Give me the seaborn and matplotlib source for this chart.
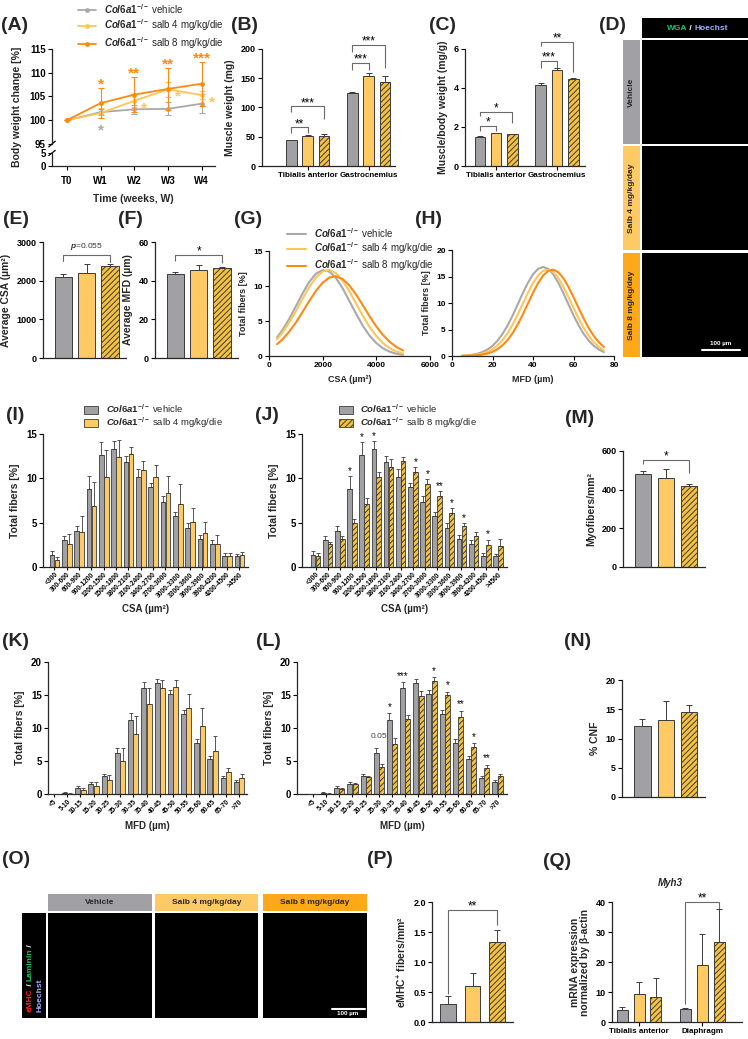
import numpy as np
import pandas as pd
import seaborn as sns
import matplotlib.pyplot as plt
from matplotlib.patches import Patch, Rectangle
from matplotlib.lines import Line2D
from matplotlib.transforms import offset_copy

# ---------------- data ----------------
weeks = ["T0", "W1", "W2", "W3", "W4"]
bw_vehicle = [100.0, 101.7, 102.3, 102.4, 103.5]
bw_vehicle_err = [0.0, 0.6, 1.0, 1.4, 2.0]
bw_salb4 = [100.0, 101.5, 104.1, 106.5, 105.3]
bw_salb4_err = [0.0, 1.0, 1.4, 1.6, 0.8]
bw_salb8 = [100.0, 103.6, 105.4, 106.6, 107.7]
bw_salb8_err = [0.0, 3.2, 3.7, 4.5, 4.6]
bw_stars_salb8 = ["", "*", "**", "**", "***"]
bw_stars_salb4 = ["", "", "*", "*", "*"]
bw_stars_vehicle = ["", "*", "", "", ""]

muscles_b = ["Tibialis anterior", "Gastrocnemius"]
mw_vehicle = [44, 124]
mw_vehicle_err = [1.2, 3.0]
mw_salb4 = [52, 154]
mw_salb4_err = [1.5, 5.0]
mw_salb8 = [51, 143]
mw_salb8_err = [4.0, 10.0]

rw_vehicle = [1.50, 4.17]
rw_vehicle_err = [0.03, 0.09]
rw_salb4 = [1.67, 4.93]
rw_salb4_err = [0.03, 0.07]
rw_salb8 = [1.62, 4.45]
rw_salb8_err = [0.03, 0.05]

csa_mean = [2090, 2200, 2380]
csa_err = [80, 220, 60]
mfd_mean = [43.6, 45.7, 46.6]
mfd_err = [0.8, 2.4, 0.5]

curve_csa = [300, 500, 750, 1000, 1250, 1500, 1750, 2000, 2250, 2500,
             2750, 3000, 3250, 3500, 3750, 4000, 4250, 4500, 4750, 5000]
curve_csa_vehicle = [2.66, 3.70, 5.28, 7.09, 8.93, 10.58, 11.76, 12.28, 12.06, 11.12,
                     9.63, 7.83, 5.99, 4.30, 2.90, 1.84, 1.09, 0.61, 0.32, 0.16]
curve_csa_salb4 = [2.39, 3.32, 4.74, 6.40, 8.17, 9.85, 11.22, 12.08, 12.29, 11.81,
                   10.72, 9.20, 7.46, 5.72, 4.14, 2.83, 1.83, 1.12, 0.64, 0.35]
curve_csa_salb8 = [1.69, 2.37, 3.45, 4.78, 6.29, 7.85, 9.31, 10.48, 11.21, 11.39,
                   10.98, 10.06, 8.75, 7.23, 5.67, 4.22, 2.99, 2.01, 1.28, 0.78]

curve_mfd = [5, 7.5, 10, 12.5, 15, 17.5, 20, 22.5, 25, 27.5, 30, 32.5, 35, 37.5, 40,
             42.5, 45, 47.5, 50, 52.5, 55, 57.5, 60, 62.5, 65, 67.5, 70, 72.5, 75]
curve_mfd_vehicle = [0.06, 0.13, 0.24, 0.43, 0.74, 1.22, 1.92, 2.90, 4.19, 5.80, 7.69,
                     9.77, 11.87, 13.82, 15.40, 16.44, 16.80, 16.44, 15.40, 13.82, 11.87,
                     9.77, 7.69, 5.80, 4.19, 2.90, 1.92, 1.22, 0.74]
curve_mfd_salb4 = [0.04, 0.07, 0.14, 0.26, 0.47, 0.79, 1.30, 2.03, 3.03, 4.35, 5.98,
                   7.86, 9.89, 11.92, 13.75, 15.19, 16.07, 16.29, 15.80, 14.68, 13.05,
                   11.12, 9.06, 7.08, 5.29, 3.79, 2.60, 1.71, 1.07]
curve_mfd_salb8 = [0.02, 0.04, 0.07, 0.14, 0.26, 0.47, 0.79, 1.30, 2.03, 3.03, 4.35,
                   5.98, 7.86, 9.89, 11.92, 13.75, 15.19, 16.07, 16.29, 15.80, 14.68,
                   13.05, 11.12, 9.06, 7.08, 5.29, 3.79, 2.60, 1.71]

csa_bins = ["<300", "300-600", "600-900", "900-1200", "1200-1500", "1500-1800",
            "1800-2100", "2100-2400", "2400-2700", "2700-3000", "3000-3300",
            "3300-3600", "3600-3900", "3900-4200", "4200-4500", ">4500"]
csa_vehicle = [1.35, 3.05, 4.1, 8.8, 12.6, 13.3, 11.8, 10.15, 9.0, 7.3, 5.7, 4.45, 3.2, 2.6, 1.25, 1.2]
csa_vehicle_err = [0.45, 0.4, 0.5, 1.5, 1.5, 0.9, 0.7, 0.9, 0.5, 0.7, 0.5, 0.5, 0.4, 0.5, 0.3, 0.3]
csa_salb4 = [0.8, 2.65, 4.0, 6.9, 10.1, 12.4, 12.8, 10.9, 10.2, 8.35, 7.1, 5.05, 3.8, 2.6, 1.25, 1.3]
csa_salb4_err = [0.3, 1.1, 1.7, 2.7, 3.1, 1.9, 0.7, 1.0, 1.3, 1.9, 2.3, 1.6, 1.3, 1.0, 0.3, 0.4]
csa_salb8 = [1.2, 2.65, 3.2, 5.0, 7.15, 10.2, 11.3, 12.0, 10.7, 9.35, 8.0, 6.1, 4.6, 3.5, 2.5, 2.35]
csa_salb8_err = [0.35, 0.15, 0.3, 0.4, 0.6, 0.5, 0.9, 0.4, 0.6, 0.6, 0.6, 0.5, 0.4, 0.5, 0.6, 0.8]
csa_stars_salb8 = ["", "", "", "*", "*", "*", "", "", "*", "*", "**", "*", "*", "", "*", ""]

myo_mean = [480, 462, 420]
myo_err = [18, 43, 10]

mfd_bins = ["<5", "5-10", "10-15", "15-20", "20-25", "25-30", "30-35", "35-40",
            "40-45", "45-50", "50-55", "55-60", "60-65", "65-70", ">70"]
mfd_vehicle = [0.0, 0.15, 0.9, 1.5, 2.8, 6.15, 11.15, 16.1, 16.75, 15.15, 12.1, 7.7, 5.3, 2.45, 1.85]
mfd_vehicle_err = [0.0, 0.1, 0.25, 0.25, 0.3, 0.8, 1.1, 0.8, 0.7, 0.6, 0.7, 0.7, 0.5, 0.3, 0.3]
mfd_salb4 = [0.0, 0.05, 0.55, 1.25, 2.15, 4.95, 9.15, 13.6, 16.1, 16.25, 13.0, 10.35, 6.55, 3.3, 2.5]
mfd_salb4_err = [0.0, 0.05, 0.4, 0.55, 0.8, 2.0, 2.6, 2.4, 1.2, 1.0, 2.2, 2.7, 2.2, 0.7, 0.5]
mfd_salb8 = [0.0, 0.05, 0.75, 1.45, 2.55, 4.15, 7.6, 11.3, 14.85, 17.1, 15.0, 11.7, 7.1, 3.9, 2.7]
mfd_salb8_err = [0.0, 0.05, 0.2, 0.2, 0.2, 0.35, 0.9, 0.6, 0.8, 0.6, 0.5, 0.9, 0.6, 0.5, 0.4]
mfd_stars_salb8 = ["", "", "", "", "", "0.05", "*", "***", "", "*", "*", "**", "*", "**", ""]

cnf_mean = [12.2, 13.1, 14.6]
cnf_err = [1.1, 3.3, 1.1]

emhc_mean = [0.30, 0.60, 1.33]
emhc_err = [0.14, 0.22, 0.20]

muscles_q = ["Tibialis anterior", "Diaphragm"]
myh3_vehicle = [4.1, 4.3]
myh3_vehicle_err = [1.0, 0.5]
myh3_salb4 = [9.2, 19.1]
myh3_salb4_err = [4.3, 10.1]
myh3_salb8 = [8.5, 26.6]
myh3_salb8_err = [6.3, 11.0]

# ---------------- style ----------------
sns.set_style("ticks")
plt.rcParams['font.family'] = ['Liberation Sans', 'DejaVu Sans']
plt.rcParams['font.weight'] = 'bold'
plt.rcParams['axes.labelweight'] = 'bold'
plt.rcParams['mathtext.fontset'] = 'custom'
plt.rcParams['mathtext.rm'] = 'Liberation Sans'
plt.rcParams['mathtext.it'] = 'Liberation Sans:italic'
plt.rcParams['mathtext.bf'] = 'Liberation Sans:bold'
plt.rcParams['hatch.linewidth'] = 0.7
plt.rcParams['axes.linewidth'] = 0.9

GRAY = '#a1a1a5'
YEL = '#ffc964'
HFILL = '#f6c23e'
EDGE = '#3b3b3b'
L_GRAY = '#a9a9a9'
L_YEL = '#ffc55a'
L_OR = '#ff8a12'
BRK = '#6a6a6a'
HATCH = '//////'

VEH = r'$\it{Col6a1}^{-/-}$ vehicle'
S4 = r'$\it{Col6a1}^{-/-}$ salb 4 mg/kg/die'
S8 = r'$\it{Col6a1}^{-/-}$ salb 8 mg/kg/die'

W, H = 748, 1039
fig = plt.figure(figsize=(W / 100, H / 100), dpi=100)


def add_ax(x0, y0, x1, y1):
    return fig.add_axes([x0 / W, 1 - y1 / H, (x1 - x0) / W, (y1 - y0) / H])


def finish(ax, fs=6.5):
    sns.despine(ax=ax)
    ax.tick_params(labelsize=fs, width=0.8, length=3, pad=1.5, colors='black')
    ax.patch.set_alpha(0)


def panel_label(x, y, s):
    fig.text(x / W, 1 - y / H, s, fontsize=14, fontweight='bold', ha='center', va='center')


def bar_panel(ax, groups, levels, values, errors, colors, hatches, gap, cap=2.0, ew=0.7):
    rows = [{"group": g, "level": lev, "value": v}
            for lev, vals in zip(levels, values) for g, v in zip(groups, vals)]
    df = pd.DataFrame(rows)
    sns.barplot(data=df, x="group", y="value", hue="level", order=groups,
                hue_order=levels, palette=dict(zip(levels, colors)), saturation=1,
                errorbar=None, width=0.8, gap=gap, edgecolor=EDGE, linewidth=ew,
                legend=False, ax=ax)
    bar_conts = list(ax.containers)
    tops = []
    for cont, errs, hatch in zip(bar_conts, errors, hatches):
        xs, hs = [], []
        for bar in cont:
            if hatch:
                bar.set_hatch(hatch)
            xs.append(bar.get_x() + bar.get_width() / 2)
            hs.append(bar.get_height())
        ax.errorbar(xs, hs, yerr=[np.zeros(len(errs)), errs], fmt="none", ecolor=EDGE,
                    elinewidth=ew, capsize=cap, capthick=ew, zorder=3)
        tops.append([(x, h + e) for x, h, e in zip(xs, hs, errs)])
    ax.set_xlabel("")
    ax.set_ylabel("")
    return tops


def star(ax, x, y, s, off_pt, fs=8, color='black', dx_pt=0, weight='normal'):
    tr = offset_copy(ax.transData, fig=fig, x=dx_pt, y=off_pt - 0.575 * fs, units='points')
    ax.text(x, y, s, transform=tr, ha='center', va='baseline', fontsize=fs,
            color=color, fontweight=weight, clip_on=False)


def bracket(ax, xa, xb, y, text, da, db, fs=8.5, off_pt=5):
    ax.plot([xa, xa, xb, xb], [y - da, y, y, y - db], color=BRK, lw=0.8,
            clip_on=False, solid_capstyle='butt')
    star(ax, (xa + xb) / 2, y, text, off_pt, fs=fs)


def black_box(x0, y0, x1, y1, color='black'):
    a = add_ax(x0, y0, x1, y1)
    a.set_facecolor(color)
    a.set_xticks([])
    a.set_yticks([])
    for s in a.spines.values():
        s.set_visible(False)
    return a


def multicolor(x, y, pieces, fs, rotation=0):
    renderer = fig.canvas.get_renderer()
    for txt, col in pieces:
        if rotation == 0:
            t = fig.text(x / W, 1 - y / H, txt, color=col, fontsize=fs, fontweight='bold',
                         ha='left', va='center')
            bb = t.get_window_extent(renderer)
            x += bb.width
        else:
            t = fig.text(x / W, 1 - y / H, txt, color=col, fontsize=fs, fontweight='bold',
                         rotation=90, ha='center', va='bottom')
            bb = t.get_window_extent(renderer)
            y -= bb.height


# ---------------- (A) body weight ----------------
axA = add_ax(52, 49, 215, 144)
axA2 = add_ax(52, 153, 215, 166)
pos = np.arange(len(weeks))
for vals, errs, col in [(bw_vehicle, bw_vehicle_err, L_GRAY),
                        (bw_salb4, bw_salb4_err, L_YEL),
                        (bw_salb8, bw_salb8_err, L_OR)]:
    sns.lineplot(x=pos, y=vals, color=col, lw=1.3, marker='o', markersize=3.5,
                 markeredgewidth=0, ax=axA)
    axA.errorbar(pos, vals, yerr=errs, fmt='none', ecolor=col, elinewidth=0.8,
                 capsize=2, capthick=0.8)
for p, v, e, s in zip(pos, bw_salb8, bw_salb8_err, bw_stars_salb8):
    if s:
        star(axA, p, v + e, s, 6, fs=11, color=L_OR, weight='bold')
for p, v, s in zip(pos, bw_salb4, bw_stars_salb4):
    if s:
        star(axA, p, v, s, -2, fs=11, color=L_YEL, dx_pt=7, weight='bold')
for p, v, e, s in zip(pos, bw_vehicle, bw_vehicle_err, bw_stars_vehicle):
    if s:
        star(axA, p, v - e, s, -8, fs=11, color=L_GRAY, weight='bold')
for a in (axA, axA2):
    a.set_xlim(-0.44, 4.39)
axA.set_ylim(95, 115)
axA.set_yticks([95, 100, 105, 110, 115])
axA.set_xticks([])
finish(axA, 7)
axA.spines['bottom'].set_visible(False)
axA2.set_ylim(0, 5)
axA2.set_yticks([0, 5])
axA2.set_xticks(pos)
axA2.set_xticklabels(weeks)
finish(axA2, 7)
axA2.tick_params(axis='x', pad=4)
axA2.set_xlabel("Time (weeks, W)", fontsize=7.5, labelpad=6)
d = dict(color='black', lw=0.9, clip_on=False)
axA.plot([-0.02, 0.02], [-0.03, 0.03], transform=axA.transAxes, **d)
axA2.plot([-0.02, 0.02], [0.8, 1.2], transform=axA2.transAxes, **d)
fig.text(17 / W, 1 - 107 / H, "Body weight change [%]", rotation=90, fontsize=7.5,
         fontweight='bold', ha='center', va='center')
axA.legend(handles=[Line2D([0], [0], color=c, lw=1.3, marker='o', markersize=3.5,
                           markeredgewidth=0) for c in (L_GRAY, L_YEL, L_OR)],
           labels=[VEH, S4, S8], loc='upper left', bbox_to_anchor=(74 / W, 1 + 2 / H),
           bbox_transform=fig.transFigure, frameon=False, handlelength=1.9,
           labelspacing=0.2, prop={'size': 7, 'weight': 'normal'}, borderaxespad=0)

# ---------------- (B) muscle weight ----------------
axB = add_ax(262, 49, 395, 166)
tb = bar_panel(axB, muscles_b, ["v", "s4", "s8"],
               [mw_vehicle, mw_salb4, mw_salb8],
               [mw_vehicle_err, mw_salb4_err, mw_salb8_err],
               [GRAY, YEL, HFILL], [None, None, HATCH], gap=0.33)
axB.set_xlim(-0.75, 1.43)
axB.set_ylim(0, 200)
axB.set_yticks([0, 50, 100, 150, 200])
axB.set_ylabel("Muscle weight (mg)", fontsize=7.5)
finish(axB)
axB.tick_params(axis='x', labelsize=5.8)
bracket(axB, tb[0][0][0], tb[1][0][0], 66, "**", 10, 10)
bracket(axB, tb[0][0][0], tb[2][0][0], 102, "***", 10, 22)
bracket(axB, tb[0][1][0], tb[1][1][0], 176, "***", 12, 12)
bracket(axB, tb[0][1][0], tb[2][1][0], 207, "***", 12, 40)

# ---------------- (C) muscle/body weight ----------------
axC = add_ax(465, 49, 585, 166)
tc = bar_panel(axC, muscles_b, ["v", "s4", "s8"],
               [rw_vehicle, rw_salb4, rw_salb8],
               [rw_vehicle_err, rw_salb4_err, rw_salb8_err],
               [GRAY, YEL, HFILL], [None, None, HATCH], gap=0.35)
axC.set_xlim(-0.51, 1.46)
axC.set_ylim(0, 6)
axC.set_yticks([0, 2, 4, 6])
axC.set_ylabel("Muscle/body weight (mg/g)", fontsize=7.5)
finish(axC)
axC.tick_params(axis='x', labelsize=5.8)
bracket(axC, tc[0][0][0], tc[1][0][0], 2.05, "*", 0.25, 0.25)
bracket(axC, tc[0][0][0], tc[2][0][0], 2.77, "*", 0.2, 0.55)
bracket(axC, tc[0][1][0], tc[1][1][0], 5.38, "***", 0.38, 0.38)
bracket(axC, tc[0][1][0], tc[2][1][0], 6.36, "**", 0.2, 1.55)

# ---------------- (D) WGA images ----------------
black_box(642, 18, 748, 38)
multicolor(667, 28, [("WGA", '#19c36a'), (" / ", 'white'), ("Hoechst", '#9db0ff')], 6)
for (y0, y1), name, col in zip([(40, 144), (146, 250), (253, 357)],
                               ["Vehicle", "Salb 4 mg/kg/day", "Salb 8 mg/kg/day"],
                               [GRAY, YEL, '#ffa81a']):
    black_box(623, y0, 640, y1, color=col)
    fig.text(631.5 / W, 1 - (y0 + y1) / 2 / H, name, rotation=90, fontsize=6,
             fontweight='bold', ha='center', va='center')
    black_box(642, y0, 748, y1)
fig.add_artist(Line2D([702 / W, 740 / W], [1 - 350 / H, 1 - 350 / H], color='white', lw=1.5))
fig.text(721 / W, 1 - 343 / H, "100 µm", color='white', fontsize=4.5, ha='center', va='center')

# ---------------- (E) average CSA ----------------
axE = add_ax(43, 242, 126, 358)
te = bar_panel(axE, [""], ["v", "s4", "s8"], [[v] for v in csa_mean], [[e] for e in csa_err],
               [GRAY, YEL, HFILL], [None, None, HATCH], gap=0.26)
axE.set_xlim(-0.5, 0.45)
axE.set_ylim(0, 3000)
axE.set_yticks([0, 1000, 2000, 3000])
axE.set_xticks([])
axE.set_ylabel("Average CSA (µm²)", fontsize=7.5)
finish(axE)
axE.plot([te[0][0][0]] * 2 + [te[2][0][0]] * 2, [2500, 2664, 2664, 2480], color=BRK, lw=0.8,
         clip_on=False)
axE.text(0, 2664, r"$\it{p}$=0.055", transform=offset_copy(axE.transData, fig=fig, y=2, units='points'),
         ha='center', va='bottom', fontsize=6, fontweight='normal', color='#333333')

# ---------------- (F) average MFD ----------------
axF = add_ax(155, 242, 238, 358)
tf = bar_panel(axF, [""], ["v", "s4", "s8"], [[v] for v in mfd_mean], [[e] for e in mfd_err],
               [GRAY, YEL, HFILL], [None, None, HATCH], gap=0.26)
axF.set_xlim(-0.5, 0.45)
axF.set_ylim(0, 60)
axF.set_yticks([0, 20, 40, 60])
axF.set_xticks([])
axF.set_ylabel("Average MFD (µm)", fontsize=7.5)
finish(axF)
bracket(axF, tf[0][0][0], tf[2][0][0], 53.3, "*", 3, 4)

# ---------------- (G) CSA distribution curves ----------------
axG = add_ax(269, 251, 430, 356)
for ys, col in [(curve_csa_vehicle, L_GRAY), (curve_csa_salb4, L_YEL), (curve_csa_salb8, L_OR)]:
    sns.lineplot(x=curve_csa, y=ys, color=col, lw=1.5, ax=axG)
axG.set_xlim(0, 6000)
axG.set_ylim(0, 15)
axG.set_xticks([0, 2000, 4000, 6000])
axG.set_yticks([0, 5, 10, 15])
axG.set_xlabel("CSA (µm²)", fontsize=6.5)
axG.set_ylabel("Total fibers [%]", fontsize=6.5)
finish(axG, 6)
axG.legend(handles=[Line2D([0], [0], color=c, lw=1.5) for c in (L_GRAY, L_YEL, L_OR)],
           labels=[VEH, S4, S8], loc='upper left', bbox_to_anchor=(283 / W, 1 - 222 / H),
           bbox_transform=fig.transFigure, frameon=False, handlelength=2.0,
           labelspacing=0.1, prop={'size': 7, 'weight': 'normal'}, borderaxespad=0)

# ---------------- (H) MFD distribution curves ----------------
axH = add_ax(452, 250, 614, 356)
for ys, col in [(curve_mfd_vehicle, L_GRAY), (curve_mfd_salb4, L_YEL), (curve_mfd_salb8, L_OR)]:
    sns.lineplot(x=curve_mfd, y=ys, color=col, lw=1.5, ax=axH)
axH.set_xlim(0, 80)
axH.set_ylim(0, 20)
axH.set_xticks([0, 20, 40, 60, 80])
axH.set_yticks([0, 5, 10, 15, 20])
axH.set_xlabel("MFD (µm)", fontsize=6.5)
axH.set_ylabel("Total fibers [%]", fontsize=6.5)
finish(axH, 6)


# ---------------- histograms ----------------
def histo(ax, cats, a, ae, b, be, second_hatched, ylim, xlim):
    t = bar_panel(ax, cats, ["v", "t"], [a, b], [ae, be],
                  [GRAY, HFILL if second_hatched else YEL],
                  [None, HATCH if second_hatched else None], gap=0.06, cap=1.2, ew=0.6)
    ax.set_xlim(*xlim)
    ax.set_ylim(0, ylim)
    ax.set_yticks(np.arange(0, ylim + 1, 5))
    ax.set_ylabel("Total fibers [%]", fontsize=7.5)
    finish(ax, 7)
    ax.set_xticks(range(len(cats)))
    ax.set_xticklabels(cats, rotation=45, ha='right', rotation_mode='anchor', fontsize=4.8)
    ax.tick_params(axis='x', length=2, pad=1)
    return t


hist_leg = dict(loc='upper left', bbox_transform=fig.transFigure, frameon=False,
                handlelength=1.5, handleheight=0.8, labelspacing=0.05,
                prop={'size': 6.8, 'weight': 'normal'}, borderaxespad=0)

axI = add_ax(43, 434, 248, 567)
histo(axI, csa_bins, csa_vehicle, csa_vehicle_err, csa_salb4, csa_salb4_err, False, 15,
      (-0.93, 15.69))
axI.set_xlabel("CSA (µm²)", fontsize=7)
axI.legend(handles=[Patch(facecolor=GRAY, edgecolor=EDGE, lw=0.6),
                    Patch(facecolor=YEL, edgecolor=EDGE, lw=0.6)],
           labels=[VEH, S4], bbox_to_anchor=(80 / W, 1 - 399 / H), **hist_leg)

axJ = add_ax(302, 434, 507, 567)
tj = histo(axJ, csa_bins, csa_vehicle, csa_vehicle_err, csa_salb8, csa_salb8_err, True, 15,
           (-1.11, 15.74))
axJ.set_xlabel("CSA (µm²)", fontsize=7)
for (xa, ya), (xb, yb), s in zip(tj[0], tj[1], csa_stars_salb8):
    if s:
        star(axJ, xa if ya >= yb else xb, max(ya, yb), s, 5.5, fs=7)
axJ.legend(handles=[Patch(facecolor=GRAY, edgecolor=EDGE, lw=0.6),
                    Patch(facecolor=HFILL, edgecolor=EDGE, lw=0.6, hatch=HATCH)],
           labels=[VEH, S8], bbox_to_anchor=(335 / W, 1 - 399 / H), **hist_leg)

axK = add_ax(48, 662, 247, 794)
histo(axK, mfd_bins, mfd_vehicle, mfd_vehicle_err, mfd_salb4, mfd_salb4_err, False, 20,
      (-0.45, 14.6))
axK.set_xlabel("MFD (µm)", fontsize=7)

axL = add_ax(297, 662, 507, 794)
tl = histo(axL, mfd_bins, mfd_vehicle, mfd_vehicle_err, mfd_salb8, mfd_salb8_err, True, 20,
           (-1.21, 14.72))
axL.set_xlabel("MFD (µm)", fontsize=7)
for (xa, ya), (xb, yb), s in zip(tl[0], tl[1], mfd_stars_salb8):
    if s == "0.05":
        axL.text((xa + xb) / 2, max(ya, yb), s, ha='center', va='bottom', fontsize=6,
                 fontweight='normal', color='#444444',
                 transform=offset_copy(axL.transData, fig=fig, y=6, units='points'))
    elif s:
        star(axL, xa if ya >= yb else xb, max(ya, yb), s, 6.5, fs=7)

# ---------------- (M) myofibers ----------------
axM = add_ax(623, 451, 705, 567)
tm = bar_panel(axM, [""], ["v", "s4", "s8"], [[v] for v in myo_mean], [[e] for e in myo_err],
               [GRAY, YEL, HFILL], [None, None, HATCH], gap=0.3)
axM.set_xlim(-0.5, 0.45)
axM.set_ylim(0, 600)
axM.set_yticks([0, 200, 400, 600])
axM.set_xticks([])
axM.set_ylabel("Myofibers/mm²", fontsize=7.5)
finish(axM)
bracket(axM, tm[0][0][0], tm[2][0][0], 553, "*", 20, 65)

# ---------------- (N) CNF ----------------
axN = add_ax(622, 680, 705, 797)
bar_panel(axN, [""], ["v", "s4", "s8"], [[v] for v in cnf_mean], [[e] for e in cnf_err],
          [GRAY, YEL, HFILL], [None, None, HATCH], gap=0.3)
axN.set_xlim(-0.5, 0.45)
axN.set_ylim(0, 20)
axN.set_yticks([0, 5, 10, 15, 20])
axN.set_xticks([])
axN.set_ylabel("% CNF", fontsize=7.5)
finish(axN)

# ---------------- (O) eMHC images ----------------
for (x0, x1), name, col in zip([(48, 152), (155, 258), (263, 367)],
                               ["Vehicle", "Salb 4 mg/kg/day", "Salb 8 mg/kg/day"],
                               [GRAY, YEL, '#ffa81a']):
    black_box(x0, 894, x1, 911, color=col)
    fig.text((x0 + x1) / 2 / W, 1 - 902.5 / H, name, fontsize=6, fontweight='bold',
             ha='center', va='center')
    black_box(x0, 913, x1, 1018)
black_box(22, 913, 46, 1018)
multicolor(30, 1012, [("eMHC", '#ff2020'), (" / ", 'white'), ("Laminin", '#19c36a'),
                      (" /", 'white')], 6, rotation=90)
multicolor(39.5, 1012, [("Hoechst", '#9db0ff')], 6, rotation=90)
fig.add_artist(Line2D([332 / W, 365 / W], [1 - 1009 / H, 1 - 1009 / H], color='white', lw=1.5))
fig.text(348 / W, 1 - 1014 / H, "100 µm", color='white', fontsize=4.5, ha='center', va='center')

# ---------------- (P) eMHC+ fibers ----------------
axP = add_ax(432, 902, 513, 1022)
tp = bar_panel(axP, [""], ["v", "s4", "s8"], [[v] for v in emhc_mean], [[e] for e in emhc_err],
               [GRAY, YEL, HFILL], [None, None, HATCH], gap=0.35)
axP.set_xlim(-0.44, 0.44)
axP.set_ylim(0, 2)
axP.set_yticks([0, 0.5, 1.0, 1.5, 2.0])
axP.set_yticklabels(["0.0", "0.5", "1.0", "1.5", "2.0"])
axP.set_xticks([])
axP.set_ylabel(r"eMHC$^{\mathbf{+}}$ fibers/mm²", fontsize=7.5)
finish(axP)
bracket(axP, tp[0][0][0], tp[2][0][0], 1.87, "**", 1.4, 0.25)

# ---------------- (Q) Myh3 ----------------
axQ = add_ax(612, 902, 742, 1022)
tq = bar_panel(axQ, muscles_q, ["v", "s4", "s8"],
               [myh3_vehicle, myh3_salb4, myh3_salb8],
               [myh3_vehicle_err, myh3_salb4_err, myh3_salb8_err],
               [GRAY, YEL, HFILL], [None, None, HATCH], gap=0.35)
axQ.set_xlim(-0.43, 1.63)
axQ.set_ylim(0, 40)
axQ.set_yticks([0, 10, 20, 30, 40])
axQ.set_ylabel("mRNA expression\nnormalized by β-actin", fontsize=7.5, linespacing=1.0)
finish(axQ)
axQ.tick_params(axis='x', labelsize=5.8)
axQ.text(0.45, 1.16, "Myh3", transform=axQ.transAxes, ha='center', va='center',
         fontsize=7, style='italic', fontweight='bold')
bracket(axQ, tq[0][1][0], tq[2][1][0], 40, "**", 34, 2.3)

# ---------------- panel letters ----------------
for x, y, s in [(15, 26, "(A)"), (244, 26, "(B)"), (443, 26, "(C)"), (613, 26, "(D)"),
                (16, 219, "(E)"), (130, 219, "(F)"), (248, 219, "(G)"), (429, 219, "(H)"),
                (15, 415, "(I)"), (267, 415, "(J)"), (580, 418, "(M)"),
                (16, 642, "(K)"), (268, 642, "(L)"), (578, 642, "(N)"),
                (16, 860, "(O)"), (380, 860, "(P)"), (557, 862, "(Q)")]:
    panel_label(x, y, s)

fig.savefig("out.png", dpi=100, facecolor='white')
